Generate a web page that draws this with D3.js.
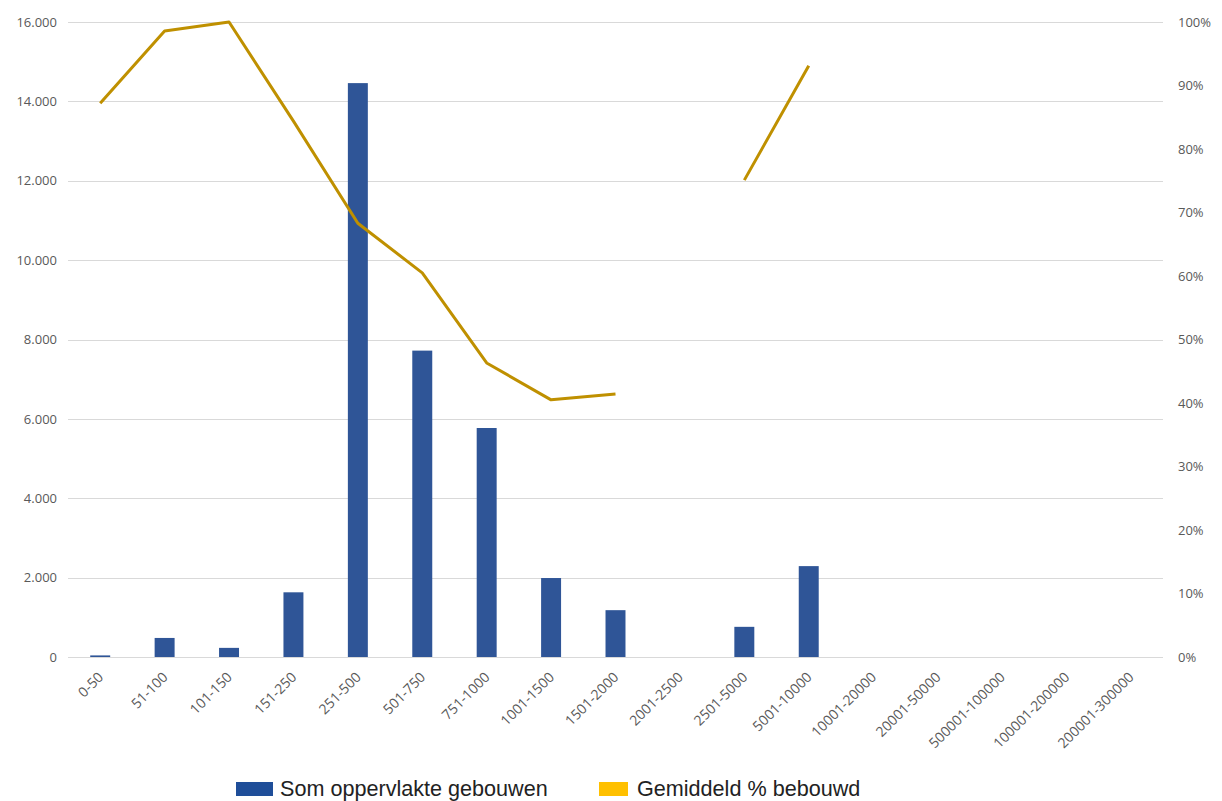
<!DOCTYPE html>
<html>
<head>
<meta charset="utf-8">
<script src="https://cdn.jsdelivr.net/npm/d3@7"></script>
<style>
  html, body { margin: 0; padding: 0; background: #fff; }
  svg { display: block; }
</style>
</head>
<body>
<svg id="chart" width="1222" height="801"></svg>
<script>
const categories = ["0-50","51-100","101-150","151-250","251-500","501-750","751-1000","1001-1500","1501-2000","2001-2500","2501-5000","5001-10000","10001-20000","20001-50000","500001-100000","100001-200000","200001-300000"];
const oppervlakte = [40, 480, 230, 1630, 14460, 7720, 5770, 1990, 1180, 0, 760, 2290, 0, 0, 0, 0, 0];
const bebouwd = [0.872, 0.986, 1.0, 0.844, 0.683, 0.605, 0.463, 0.405, 0.414, null, 0.751, 0.931, null, null, null, null, null];
const leftTicks = [0, 2000, 4000, 6000, 8000, 10000, 12000, 14000, 16000];
const rightTicks = [0, 0.1, 0.2, 0.3, 0.4, 0.5, 0.6, 0.7, 0.8, 0.9, 1.0];
const legendLabels = ["Som oppervlakte gebouwen", "Gemiddeld % bebouwd"];

(function () {
const svg = d3.select("#chart");
const pLeft = 68, pRight = 1163, pTop = 22, pBottom = 657;

const x = d3.scaleBand().domain(categories).range([pLeft, pRight]).paddingInner(0.69).paddingOuter(0.345);
const yL = d3.scaleLinear().domain([0, 16000]).range([pBottom, pTop]);
const yR = d3.scaleLinear().domain([0, 1]).range([pBottom, pTop]);

const fmtL = d => d3.format(",")(d).replace(/,/g, ".");
const fmtR = d3.format(".0%");

// gridlines
svg.append("g").selectAll("line").data(leftTicks).join("line")
  .attr("x1", pLeft).attr("x2", pRight)
  .attr("y1", d => Math.round(yL(d)) + 0.5).attr("y2", d => Math.round(yL(d)) + 0.5)
  .attr("stroke", "#d9d9d9").attr("stroke-width", 1);

// left axis
const gL = svg.append("g").attr("transform", `translate(${pLeft - 11},0)`)
  .call(d3.axisLeft(yL).tickValues(leftTicks).tickFormat(fmtL).tickSize(0).tickPadding(0));
gL.select(".domain").remove();
gL.selectAll("text").attr("fill", "#595959").attr("font-family", "'Open Sans', sans-serif").attr("font-size", "13px");

// right axis
const gR = svg.append("g").attr("transform", `translate(${pRight + 15},0)`)
  .call(d3.axisRight(yR).tickValues(rightTicks).tickFormat(fmtR).tickSize(0).tickPadding(0));
gR.select(".domain").remove();
gR.selectAll("text").attr("fill", "#595959").attr("font-family", "'Open Sans', sans-serif").attr("font-size", "13px");

// bars
svg.append("g").selectAll("rect").data(categories.map((c, i) => ({c, v: oppervlakte[i]})).filter(d => d.v > 0))
  .join("rect")
  .attr("x", d => x(d.c)).attr("width", x.bandwidth())
  .attr("y", d => yL(d.v)).attr("height", d => pBottom - yL(d.v))
  .attr("fill", "#2f5597");

// line
const line = d3.line()
  .defined(d => d.v !== null)
  .x(d => x(d.c) + x.bandwidth() / 2)
  .y(d => yR(d.v));
svg.append("path")
  .datum(categories.map((c, i) => ({c, v: bebouwd[i]})))
  .attr("d", line)
  .attr("fill", "none").attr("stroke", "#bf9000").attr("stroke-width", 3)
  .attr("stroke-linejoin", "round");

// x axis labels
const gX = svg.append("g").attr("transform", `translate(0,${pBottom})`)
  .call(d3.axisBottom(x).tickSize(0).tickPadding(0));
gX.select(".domain").remove();
gX.selectAll("text")
  .attr("font-family", "'Open Sans', sans-serif").attr("font-size", "14px").attr("fill", "#595959")
  .attr("text-anchor", "end").attr("dy", null).attr("y", 0)
  .attr("transform", "translate(4,21) rotate(-45)");

// legend
const lg = svg.append("g").attr("font-family", "'Liberation Sans', Arial, sans-serif").attr("font-size", "21.6px").attr("fill", "#222");
lg.append("rect").attr("x", 236).attr("y", 782).attr("width", 37).attr("height", 14).attr("fill", "#1f4e99");
lg.append("text").attr("x", 280).attr("y", 795.5).text(legendLabels[0]);
lg.append("rect").attr("x", 599).attr("y", 782).attr("width", 29).attr("height", 14).attr("fill", "#ffc000");
lg.append("text").attr("x", 637).attr("y", 795.5).text(legendLabels[1]);
})();
</script>
</body>
</html>
